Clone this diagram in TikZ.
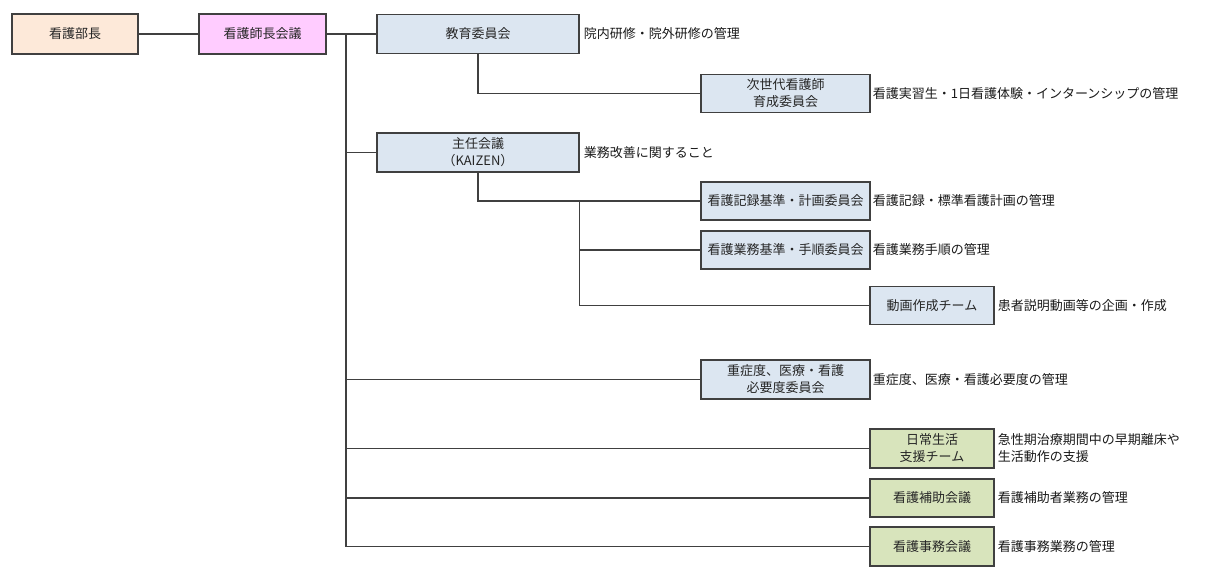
\documentclass[tikz,border=0pt]{standalone}
\usepackage{fontspec}
\setmainfont{Noto Sans CJK JP}
\usetikzlibrary{positioning}
\definecolor{peach}{HTML}{FDE9D9}
\definecolor{pinkbox}{HTML}{FFCCFF}
\definecolor{bluebox}{HTML}{DCE6F1}
\definecolor{greenbox}{HTML}{D8E4BC}
\definecolor{boxline}{HTML}{404040}

\begin{document}
\begin{tikzpicture}[x=1pt, y=-1pt,
        orgbox/.style={draw=boxline, line width=1.3pt, inner sep=2pt, align=center,
            font=\fontsize{13}{17}\selectfont, text=black!85},
        wide/.style={orgbox, minimum width=202pt, minimum height=39pt, fill=bluebox},
        mid/.style={orgbox, minimum width=169pt, minimum height=38pt, fill=bluebox},
        small/.style={orgbox, minimum width=124pt, minimum height=38pt},
        desc/.style={anchor=west, inner sep=1pt, align=left,
            font=\fontsize{13}{17}\selectfont, text=black!90},
        link/.style={draw=boxline, line width=1.1pt}]
        \useasboundingbox (0,0) rectangle (1210,585);

        % top row
        \node[orgbox, minimum width=126pt, minimum height=40pt, fill=peach] (bucho) at (75,34) {看護部長};
        \node[orgbox, minimum width=127pt, minimum height=40pt, fill=pinkbox] (shicho) at (262.5,34) {看護師長会議};
        \node[wide] (kyoiku) at (478,34) {教育委員会};
        \node[mid] (jisedai) at (785.5,93.5) {次世代看護師\\育成委員会};

        % KAIZEN
        \node[wide] (shunin) at (478,152.5) {主任会議\\（KAIZEN）};
        \node[mid] (kiroku) at (785.5,201) {看護記録基準・計画委員会};
        \node[mid] (gyomu) at (785.5,250) {看護業務基準・手順委員会};
        \node[small, fill=bluebox] (douga) at (932,305.5) {動画作成チーム};

        \node[mid, minimum height=39pt] (juusho) at (785.5,379.5) {重症度、医療・看護\\必要度委員会};
        \node[small, minimum height=39pt, fill=greenbox] (nichijo) at (932,448.5) {日常生活\\支援チーム};
        \node[small, fill=greenbox] (hojo) at (932,498) {看護補助会議};
        \node[small, minimum height=39pt, fill=greenbox] (jimu) at (932,546.5) {看護事務会議};

        % descriptions
        \node[desc, right=3pt of kyoiku] (kyoikutxt) {院内研修・院外研修の管理};
        \node[desc, right=1pt of jisedai] (jisedaitxt) {看護実習生・1日看護体験・インターンシップの管理};
        \node[desc, right=3pt of shunin] (shunintxt) {業務改善に関すること};
        \node[desc, right=1pt of kiroku] (kirokutxt) {看護記録・標準看護計画の管理};
        \node[desc, right=1pt of gyomu] (gyomutxt) {看護業務手順の管理};
        \node[desc, right=2pt of douga] (dougatxt) {患者説明動画等の企画・作成};
        \node[desc, right=1pt of juusho] (juushotxt) {重症度、医療・看護必要度の管理};
        \node[desc, right=2pt of nichijo] (nichijotxt) {急性期治療期間中の早期離床や\\生活動作の支援};
        \node[desc, right=2pt of hojo] (hojotxt) {看護補助者業務の管理};
        \node[desc, right=2pt of jimu] (jimutxt) {看護事務業務の管理};

        % connectors
        \coordinate (trunk) at (346,34);
        \draw[link] (bucho) -- (shicho);
        \draw[link] (shicho) -- (kyoiku);
        \draw[link] (trunk) -- (trunk |- jimu.west);
        \foreach \n in {shunin,juusho,nichijo,hojo,jimu} {
            \draw[link] (trunk |- \n.west) -- (\n.west);
        }
        \draw[link] (kyoiku.south) -- (kyoiku.south |- jisedai.west) -- (jisedai.west);
        \draw[link] (shunin.south) -- (shunin.south |- kiroku.west) -- (kiroku.west);
        \draw[link] (shunin.east |- kiroku.west) -- (shunin.east |- douga.west) -- (douga.west);
        \draw[link] (shunin.east |- gyomu.west) -- (gyomu.west);
    \end{tikzpicture}
\end{document}
